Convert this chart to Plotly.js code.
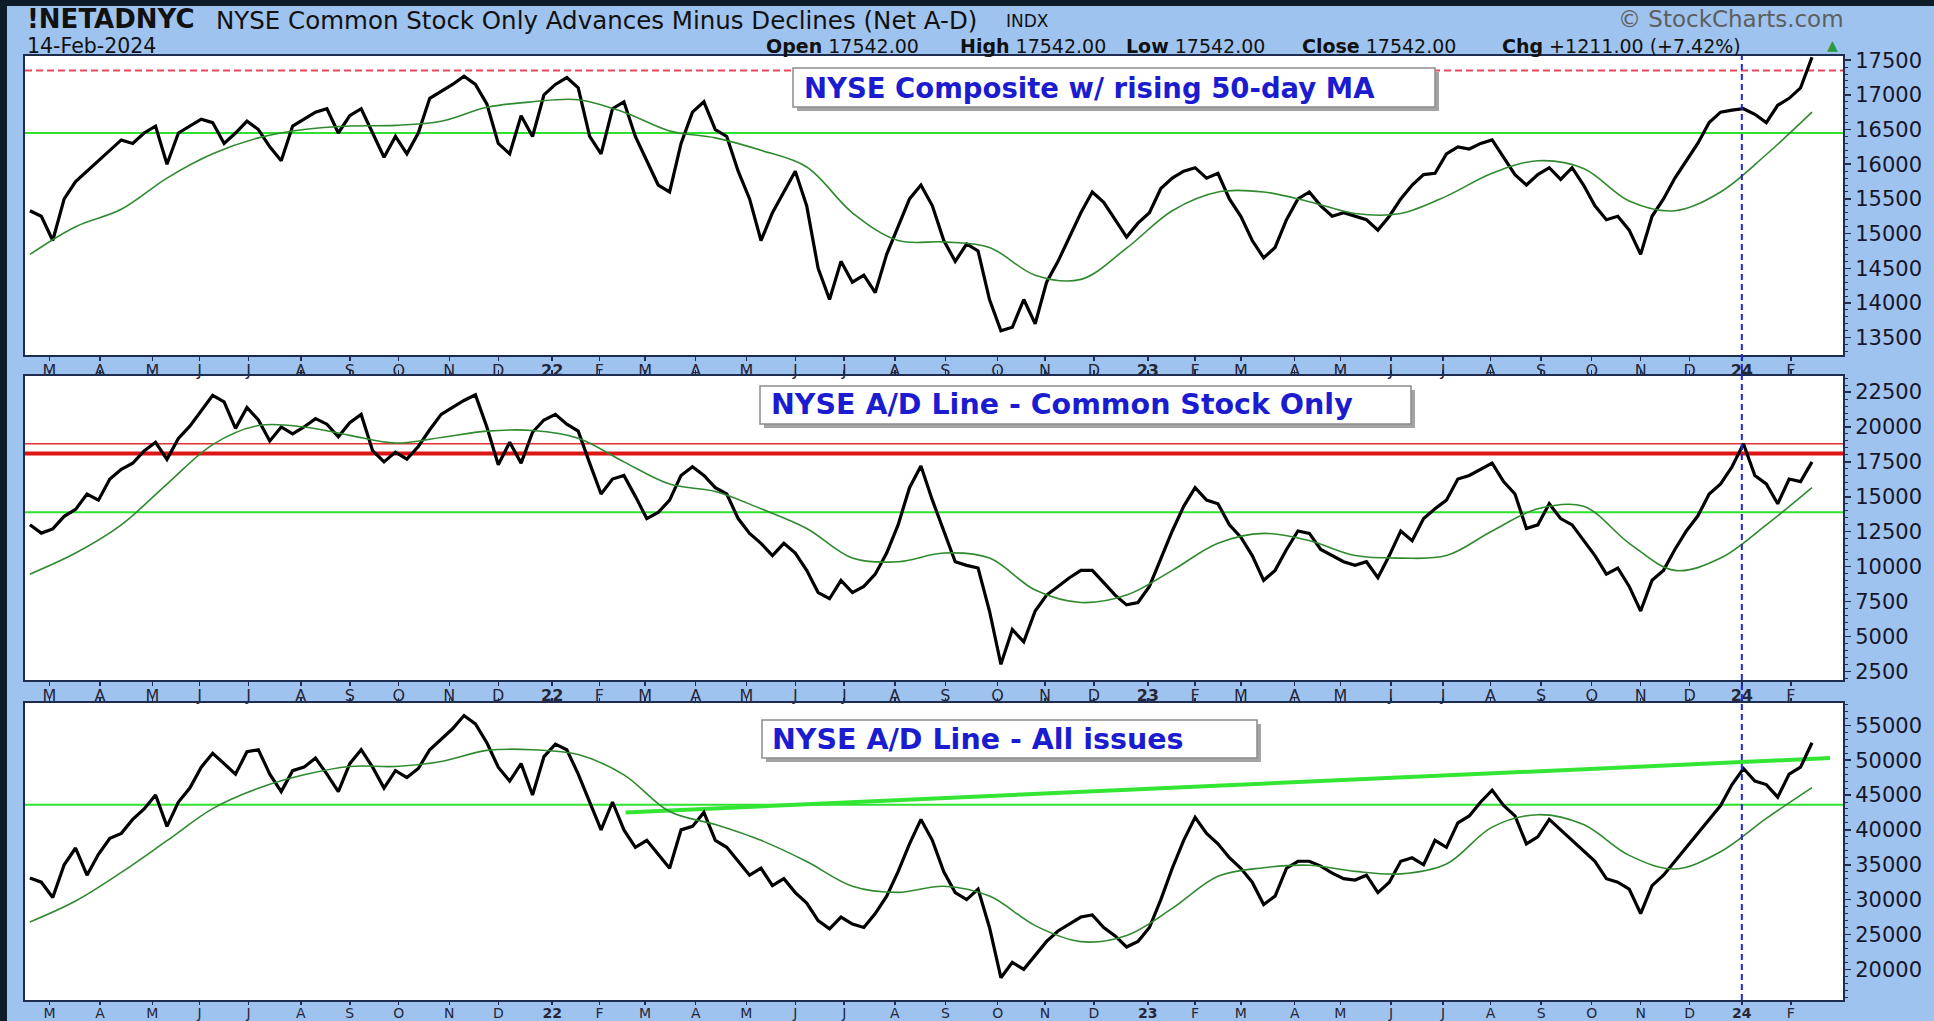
<!DOCTYPE html>
<html><head><meta charset="utf-8">
<script src="https://cdn.plot.ly/plotly-3.0.1.min.js"></script>
<style>
html,body{margin:0;padding:0;background:#0e1b29;width:1934px;height:1021px;overflow:hidden}
#chart{position:absolute;left:7px;top:0px;width:1927px;height:1021px}
</style></head><body><div id="chart"></div>
<script>
// ---------- data (weekly samples, first sample 17-Feb-2021) ----------
const startDate = '2021-02-17';
const compClose = [
15330,15250,14900,15500,15750,15900,16050,16200,16350,16300,
16450,16550,16000,16450,16550,16650,16600,16300,16450,16620,
16500,16250,16050,16550,16650,16750,16800,16450,16700,16800,
16450,16100,16400,16150,16450,16950,17050,17150,17270,17150,
16870,16300,16150,16700,16400,17000,17150,17250,17100,16400,
16150,16800,16900,16400,16050,15700,15600,16300,16750,16900,
16500,16400,15900,15500,14900,15300,15600,15900,15400,14500,
14050,14600,14300,14400,14150,14700,15100,15500,15700,15400,
14900,14600,14850,14750,14050,13600,13650,14050,13700,14300,
14600,14950,15300,15600,15450,15200,14950,15150,15300,15650,
15800,15900,15950,15800,15870,15500,15250,14900,14650,14800,
15200,15500,15600,15400,15250,15300,15250,15200,15050,15250,
15500,15700,15850,15870,16150,16250,16220,16300,16350,16100,
15850,15700,15850,15950,15780,15950,15700,15400,15200,15250,
15050,14700,15250,15500,15800,16050,16300,16600,16750,16780,
16800,16720,16600,16850,16950,17100,17542];
const adCommon = [
13000,12400,12700,13600,14100,15200,14760,16270,16970,17400,
18290,18900,17680,19180,20060,21200,22270,21800,19900,21400,
20500,19000,20000,19500,20000,20600,20200,19300,20300,20900,
18300,17500,18200,17700,18600,19800,20900,21400,21900,22300,
20000,17300,18900,17410,19620,20500,20900,20200,19700,17410,
15200,16270,16530,15030,13440,13880,14760,16530,17150,16530,
15650,15200,13440,12380,11670,10790,11670,10970,9730,8140,
7700,9020,8140,8580,9460,10970,12990,15650,17200,14760,
12550,10350,10090,9900,6820,3000,5490,4610,6820,7960,
8580,9200,9730,9730,8850,7960,7260,7430,8580,10610,
12550,14320,15650,14760,14500,12990,12110,10790,9020,9730,
11230,12550,12380,11230,10790,10350,10090,10350,9200,10790,
12550,11850,13440,14140,14760,16270,16530,16970,17410,16090,
15200,12730,12990,14500,13440,12990,11850,10790,9460,9900,
8580,6820,9020,9730,11230,12550,13620,15200,15920,17150,
18800,16530,15920,14500,16270,16090,17500];
const adAll = [
33100,32500,30300,35000,37400,33500,36500,38800,39500,41500,
43000,45000,40500,44000,46000,49000,51000,49500,48000,51200,
51500,48000,45500,48500,49000,50300,48000,45500,49500,51500,
49000,46000,48500,47500,48800,51500,53000,54500,56400,55200,
52500,49000,47000,49500,45000,50500,52300,51500,48000,44000,
40000,44000,40000,37500,38500,36500,34500,40000,40500,42500,
38500,37500,35500,33500,34500,32000,33000,31000,29500,27000,
25800,27500,26500,26000,28000,30500,34000,38000,41500,38500,
34000,31000,30000,31500,26000,18800,21000,20000,22000,24000,
25500,26500,27500,27800,26000,24800,23200,24000,26000,30000,
34500,38500,41800,39500,38000,36000,34500,32500,29300,30500,
34500,35500,35500,34800,33800,33000,32800,33500,31000,32500,
35500,36000,35000,38500,37500,41000,42000,44000,45700,43500,
42000,38000,39000,41500,40000,38500,37000,35500,33000,32500,
31500,28000,32000,33500,35500,37500,39500,41500,43500,46500,
48800,47000,46500,44700,48000,49000,52500];
// 50-day moving averages, read every 4 weeks
const compMA = [14700,15100,15350,15800,16150,16380,16500,16550,16560,16620,
16820,16900,16930,16750,16480,16380,16200,15960,15300,14900,
14880,14800,14400,14340,14790,15330,15600,15600,15460,15290,
15290,15540,15870,16050,15940,15470,15330,15600,16140,16750];
const adCommonMA = [9460,10970,12990,15910,18740,20100,20000,19400,18850,19250,
19700,19750,19200,17500,15910,15380,14140,12730,10610,10350,
10970,10610,8320,7430,7960,9730,11670,12380,11850,10790,
10610,10790,12550,14140,14320,11670,9730,10610,12990,15650];
const adAllMA = [26800,29800,33900,38450,43050,45970,47900,49100,49100,49800,
51400,51500,50800,47900,42630,40760,38500,35460,31920,31040,
31920,30510,26270,23970,24860,28740,33340,34580,34930,34050,
33690,35110,40400,42180,40760,36340,34400,36870,41640,46060];
// reference levels drawn on the chart
const compResistance = 17350, compSupport = 16450;
const commonResThin = 18800, commonResThick = 18100, commonSupport = 13900;
const allSupport = 43600;
const trendDates = ['2022-02-17','2024-02-25'];
const trendValues = [42500, 50300];
const yearMarker = '2024-01-02';
// month ticks
const monthTicks = ['2021-03-01','2021-04-01','2021-05-03','2021-06-01','2021-07-01','2021-08-02','2021-09-01','2021-10-01','2021-11-01','2021-12-01',
'2022-01-03','2022-02-01','2022-03-01','2022-04-01','2022-05-02','2022-06-01','2022-07-01','2022-08-01','2022-09-01','2022-10-03','2022-11-01','2022-12-01',
'2023-01-03','2023-02-01','2023-03-01','2023-04-03','2023-05-01','2023-06-01','2023-07-03','2023-08-01','2023-09-01','2023-10-02','2023-11-01','2023-12-01',
'2024-01-02','2024-02-01'];
const monthLabels = ['M','A','M','J','J','A','S','O','N','D',
'<b>22</b>','F','M','A','M','J','J','A','S','O','N','D',
'<b>23</b>','F','M','A','M','J','J','A','S','O','N','D',
'<b>24</b>','F'];
const panelTitles = ['NYSE Composite w/ rising 50-day MA','NYSE A/D Line - Common Stock Only','NYSE A/D Line - All issues'];
const headerSymbol = '!NETADNYC';
const headerName = 'NYSE Common Stock Only Advances Minus Declines (Net A-D)';
const headerDate = '14-Feb-2024';
const quoteLabels = ['Open','High','Low','Close','Chg'];
const quoteValues = ['17542.00','17542.00','17542.00','17542.00','+1211.00 (+7.42%)'];

// ---------- helpers ----------
function addDays(iso, n){const d=new Date(iso+'T00:00:00Z');d.setUTCDate(d.getUTCDate()+n);return d.toISOString().slice(0,10);}
const weekDates = compClose.map((_,i)=>addDays(startDate,7*i));
const maDates = compMA.map((_,i)=>addDays(startDate,28*i));
const PX = x => (x-25)/1818;   // page px -> paper x
const PY = y => (1000-y)/944;  // page px -> paper y
const F = 'DejaVu Sans, Verdana, sans-serif';
const edge = '#1d2c4f';
const xRange = ['2021-02-14','2024-03-04'];

function xax(anchor, mirror, fsize, tlen){
  return {anchor, domain:[0,1], type:'date', range:xRange, tickmode:'array', tickvals:monthTicks, ticktext:monthLabels,
    ticks:'outside', ticklen:tlen, tickwidth:1.5, tickcolor:edge, ticklabelstandoff:-4, showline:true, linecolor:edge, linewidth:2, mirror,
    showgrid:false, zeroline:false, tickfont:{family:F,size:fsize,color:'#262636'}, fixedrange:true};
}
function yax(anchor, domain, range, dtick, minor){
  return {anchor, domain, range, side:'right', tickmode:'linear', tick0:0, dtick, tickformat:'d',
    ticks:'outside', ticklen:6, tickwidth:1.5, tickcolor:edge, showline:true, linecolor:edge, linewidth:2, mirror:true,
    showgrid:false, zeroline:false, tickfont:{family:F,size:21,color:'#16162a'},
    minor:{ticks:'outside', ticklen:3, tickwidth:1, tickcolor:edge, dtick:minor, showgrid:false}, fixedrange:true};
}
const blackLine = {color:'#000', width:3.2};
const maLine = {color:'#2f8a2f', width:1.6, shape:'spline'};

const data = [
  {x:weekDates, y:compClose, xaxis:'x', yaxis:'y', mode:'lines', line:blackLine},
  {x:maDates, y:compMA, xaxis:'x', yaxis:'y', mode:'lines', line:maLine},
  {x:weekDates, y:adCommon, xaxis:'x2', yaxis:'y2', mode:'lines', line:blackLine},
  {x:maDates, y:adCommonMA, xaxis:'x2', yaxis:'y2', mode:'lines', line:maLine},
  {x:trendDates, y:trendValues, xaxis:'x3', yaxis:'y3', mode:'lines', line:{color:'#33e633', width:4}},
  {x:weekDates, y:adAll, xaxis:'x3', yaxis:'y3', mode:'lines', line:blackLine},
  {x:maDates, y:adAllMA, xaxis:'x3', yaxis:'y3', mode:'lines', line:maLine}
];

function hline(ax, v, color, width, dash, layer){
  return {type:'line', xref:ax==='y'?'x domain':'x'+ax.slice(1)+' domain', x0:0, x1:1, yref:ax, y0:v, y1:v,
    line:{color, width, dash:dash||'solid'}, layer:layer||'below'};
}
const boxes = [[793,68,1435,107],[760,386,1411,424],[762,720,1257,758]];
const textPos = [[802,88],[769,405],[770,739]];
const shapes = [
  // dark frame strip along the top of the page
  {type:'rect', xref:'paper', yref:'paper', x0:PX(0), x1:PX(1934), y0:PY(6), y1:PY(0), fillcolor:'#0e1b29', line:{width:0}, layer:'above'},
  hline('y', compResistance, '#e8485a', 2, '7px,4px'),
  hline('y', compSupport, '#2fe02f', 2),
  hline('y2', commonResThin, '#e23333', 1.6),
  hline('y2', commonResThick, '#dd1515', 4),
  hline('y2', commonSupport, '#2fe02f', 2),
  hline('y3', allSupport, '#2fe02f', 2),
  {type:'line', xref:'x', x0:yearMarker, x1:yearMarker, yref:'paper', y0:0, y1:1, line:{color:'#2323d2', width:2, dash:'6px,4px'}, layer:'above'}
];
boxes.forEach(b=>{
  shapes.push({type:'rect', xref:'paper', yref:'paper', x0:PX(b[0]+4), x1:PX(b[2]+4), y0:PY(b[3]+4), y1:PY(b[1]+4), fillcolor:'#a4a4a4', line:{width:0}, layer:'above'});
  shapes.push({type:'rect', xref:'paper', yref:'paper', x0:PX(b[0]), x1:PX(b[2]), y0:PY(b[3]), y1:PY(b[1]), fillcolor:'#ffffff', line:{color:'#8c8c8c', width:1.5}, layer:'above'});
});

const ann = [];
const boxFont = [27.5, 28.5, 28.5];
panelTitles.forEach((t,i)=>ann.push({text:'<b>'+t+'</b>', xref:'paper', yref:'paper', x:PX(textPos[i][0]), y:PY(textPos[i][1]), xanchor:'left', yanchor:'middle', showarrow:false, font:{family:F,size:boxFont[i],color:'#1b1bcf'}}));
ann.push({text:'<b>'+headerSymbol+'</b>', xref:'paper', yref:'paper', x:PX(25), y:PY(19), xanchor:'left', yanchor:'middle', showarrow:false, font:{family:F,size:26,color:'#111'}});
ann.push({text:headerName, xref:'paper', yref:'paper', x:PX(214), y:PY(20), xanchor:'left', yanchor:'middle', showarrow:false, font:{family:F,size:24.5,color:'#111'}});
ann.push({text:'INDX', xref:'paper', yref:'paper', x:PX(1004), y:PY(21), xanchor:'left', yanchor:'middle', showarrow:false, font:{family:F,size:17,color:'#111'}});
ann.push({text:'© StockCharts.com', xref:'paper', yref:'paper', x:PX(1846), y:PY(19), xanchor:'right', yanchor:'middle', showarrow:false, font:{family:F,size:23,color:'#5e5e5e'}});
ann.push({text:headerDate, xref:'paper', yref:'paper', x:PX(25), y:PY(46), xanchor:'left', yanchor:'middle', showarrow:false, font:{family:F,size:20.5,color:'#111'}});
const quoteX = [764,958,1124,1300,1500];
quoteLabels.forEach((l,i)=>ann.push({text:'<b>'+l+'</b> '+quoteValues[i], xref:'paper', yref:'paper', x:PX(quoteX[i]), y:PY(46), xanchor:'left', yanchor:'middle', showarrow:false, font:{family:F,size:19,color:'#111'}}));
ann.push({text:'▲', xref:'paper', yref:'paper', x:PX(1832), y:PY(45), xanchor:'center', yanchor:'middle', showarrow:false, font:{family:F,size:14,color:'#2a9a3a'}});

const layout = {
  width:1927, height:1021, margin:{l:18, r:91, t:56, b:21, pad:0},
  paper_bgcolor:'#9fc3ef', plot_bgcolor:'#ffffff', showlegend:false, hovermode:false,
  xaxis:xax('y', true, 16, 4), xaxis2:xax('y2','allticks', 16, 4), xaxis3:xax('y3','allticks', 14, 3),
  yaxis:yax('x', [PY(355),1], [13250,17560], 500, 100),
  yaxis2:yax('x2', [PY(680),PY(376)], [1880,23650], 2500, 500),
  yaxis3:yax('x3', [0,PY(703)], [15600,58200], 5000, 1000),
  shapes, annotations:ann
};
Plotly.newPlot('chart', data, layout, {displayModeBar:false, staticPlot:true});
</script></body></html>
